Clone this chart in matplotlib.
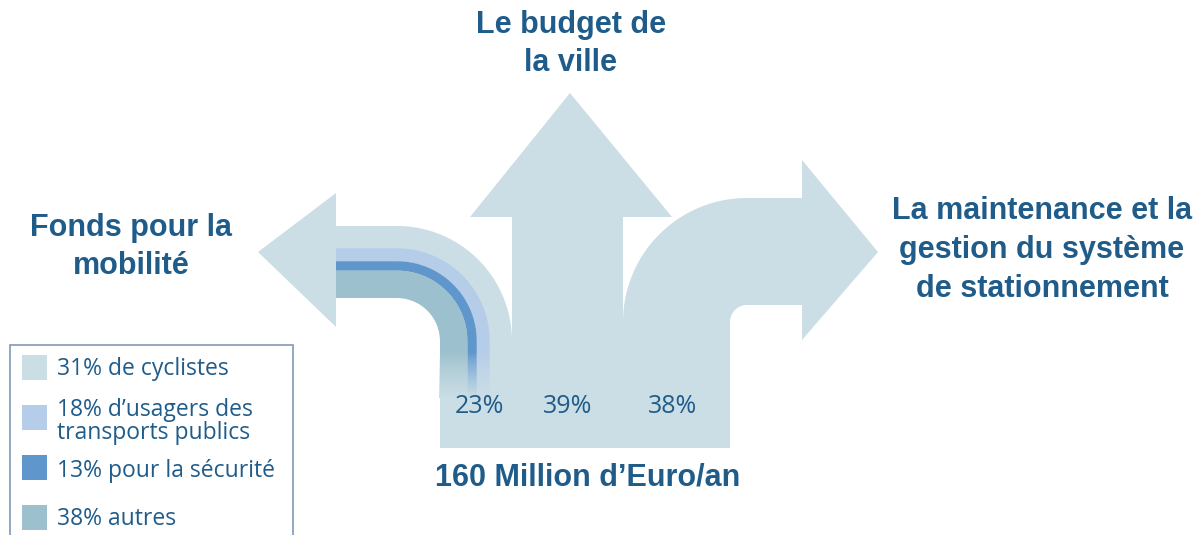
import numpy as np
import matplotlib
matplotlib.use("Agg")
import matplotlib.pyplot as plt
from matplotlib.patches import Polygon, Rectangle

# ---- data ----
user_groups = ["31% de cyclistes", "18% d\u2019usagers des\ntransports publics",
               "13% pour la s\u00e9curit\u00e9", "38% autres"]
user_shares = [31, 18, 13, 38]
destinations = ["Fonds pour la\nmobilit\u00e9", "Le budget de\nla ville",
                "La maintenance et la\ngestion du syst\u00e8me\nde stationnement"]
dest_shares = [23, 39, 38]
total_label = "160 Million d\u2019Euro/an"

group_colors = ["#cbdee6", "#b6cde9", "#5f96cc", "#9cc0cd"]
base_color = group_colors[0]
text_color = "#1f5c8a"

W, H = 1199, 535
fig = plt.figure(figsize=(W / 100, H / 100), dpi=100)
ax = fig.add_axes([0, 0, 1, 1])
ax.set_xlim(0, W)
ax.set_ylim(H, 0)
ax.axis("off")

ybot = 448

def bent_band(cx, cy, ri, ro, xend, direction, ylow, n=60):
    # direction -1: horizontal part goes left, bend on the right (left arrow)
    # direction +1: horizontal part goes right, bend on the left (right arrow)
    th = np.linspace(0, np.pi / 2, n)
    s = -direction
    outer = [(cx + s * ro * np.sin(t), cy - ro * np.cos(t)) for t in th]
    inner = [(cx + s * ri * np.sin(t), cy - ri * np.cos(t)) for t in th[::-1]]
    pts = [(xend, cy - ro)] + outer + [(cx + s * ro, ylow), (cx + s * ri, ylow)] + inner + [(xend, cy - ri)]
    return pts

# ---- up arrow ----
up = [(512, ybot), (512, 217), (470, 217), (570, 93), (672, 217), (623, 217), (623, ybot)]
ax.add_patch(Polygon(up, closed=True, fc=base_color, ec="none", zorder=1))

# ---- right arrow ----
rcx, rcy, rri, rro = 747, 322, 17, 124
ax.add_patch(Polygon(bent_band(rcx, rcy, rri, rro, 803, +1, ybot), closed=True,
                     fc=base_color, ec="none", zorder=1))
ax.add_patch(Polygon([(802, 160), (878, 252), (802, 340)], closed=True,
                     fc=base_color, ec="none", zorder=1))

# ---- left arrow (striped) ----
lcx, lcy, lri, lro = 397, 341, 43, 115
ax.add_patch(Polygon(bent_band(lcx, lcy, lri, lro, 336, -1, ybot), closed=True,
                     fc=base_color, ec="none", zorder=1))
ax.add_patch(Polygon([(336, 193), (258, 252), (336, 327)], closed=True,
                     fc=base_color, ec="none", zorder=1))
width = lro - lri
cum = np.cumsum([0] + user_shares) / sum(user_shares)
stripe_end = 398
for i in range(1, len(user_shares)):
    r_out = lro - cum[i] * width
    r_in = lro - cum[i + 1] * width
    ax.add_patch(Polygon(bent_band(lcx, lcy, r_in, r_out, 336, -1, stripe_end),
                         closed=True, fc=group_colors[i], ec="none", zorder=2))
# fade of the stripes
rgb = matplotlib.colors.to_rgb(base_color)
grad = np.zeros((100, 2, 4))
grad[..., :3] = rgb
grad[..., 3] = np.linspace(0, 1, 100)[:, None] ** 0.8
ax.imshow(grad, extent=(lcx + lri - 1, lcx + lro + 1, stripe_end, 352),
          aspect="auto", zorder=3, interpolation="bilinear")

# base join
ax.add_patch(Rectangle((lcx + lri, 400), rcx - rri - (lcx + lri), ybot - 400,
                       fc=base_color, ec="none", zorder=1))

# ---- percent labels ----
for x, s in zip([479, 568, 673], dest_shares):
    ax.text(x, 413, f"{s}%", ha="center", va="baseline", fontsize=18,
            family="Open Sans", color=text_color, zorder=5)

# ---- titles ----
tkw = dict(family="Liberation Sans", weight="bold", color=text_color,
           fontsize=22, linespacing=1.38, zorder=5)
ax.text(131, 247, destinations[0], ha="center", va="center", **tkw)
ax.text(571, 44, destinations[1], ha="center", va="center", **tkw)
ax.text(1042, 250, destinations[2], ha="center", va="center", **tkw)
ax.text(588, 485, total_label, ha="center", va="baseline", **tkw)

# ---- legend ----
ax.add_patch(Rectangle((10, 345), 283, 200, fc="white", ec="#8298b8", lw=1.2, zorder=4))
sq_y = [355, 405, 455, 505]
txt_base = [375, 439, 477, 525]
for y, tb, c, lab in zip(sq_y, txt_base, group_colors, user_groups):
    ax.add_patch(Rectangle((22, y), 25, 25, fc=c, ec="none", zorder=5))
    ax.text(57, tb, lab, ha="left", va="baseline", fontsize=16.5, family="Open Sans",
            color=text_color, linespacing=0.92, zorder=5)

fig.savefig("out.png", dpi=100)
